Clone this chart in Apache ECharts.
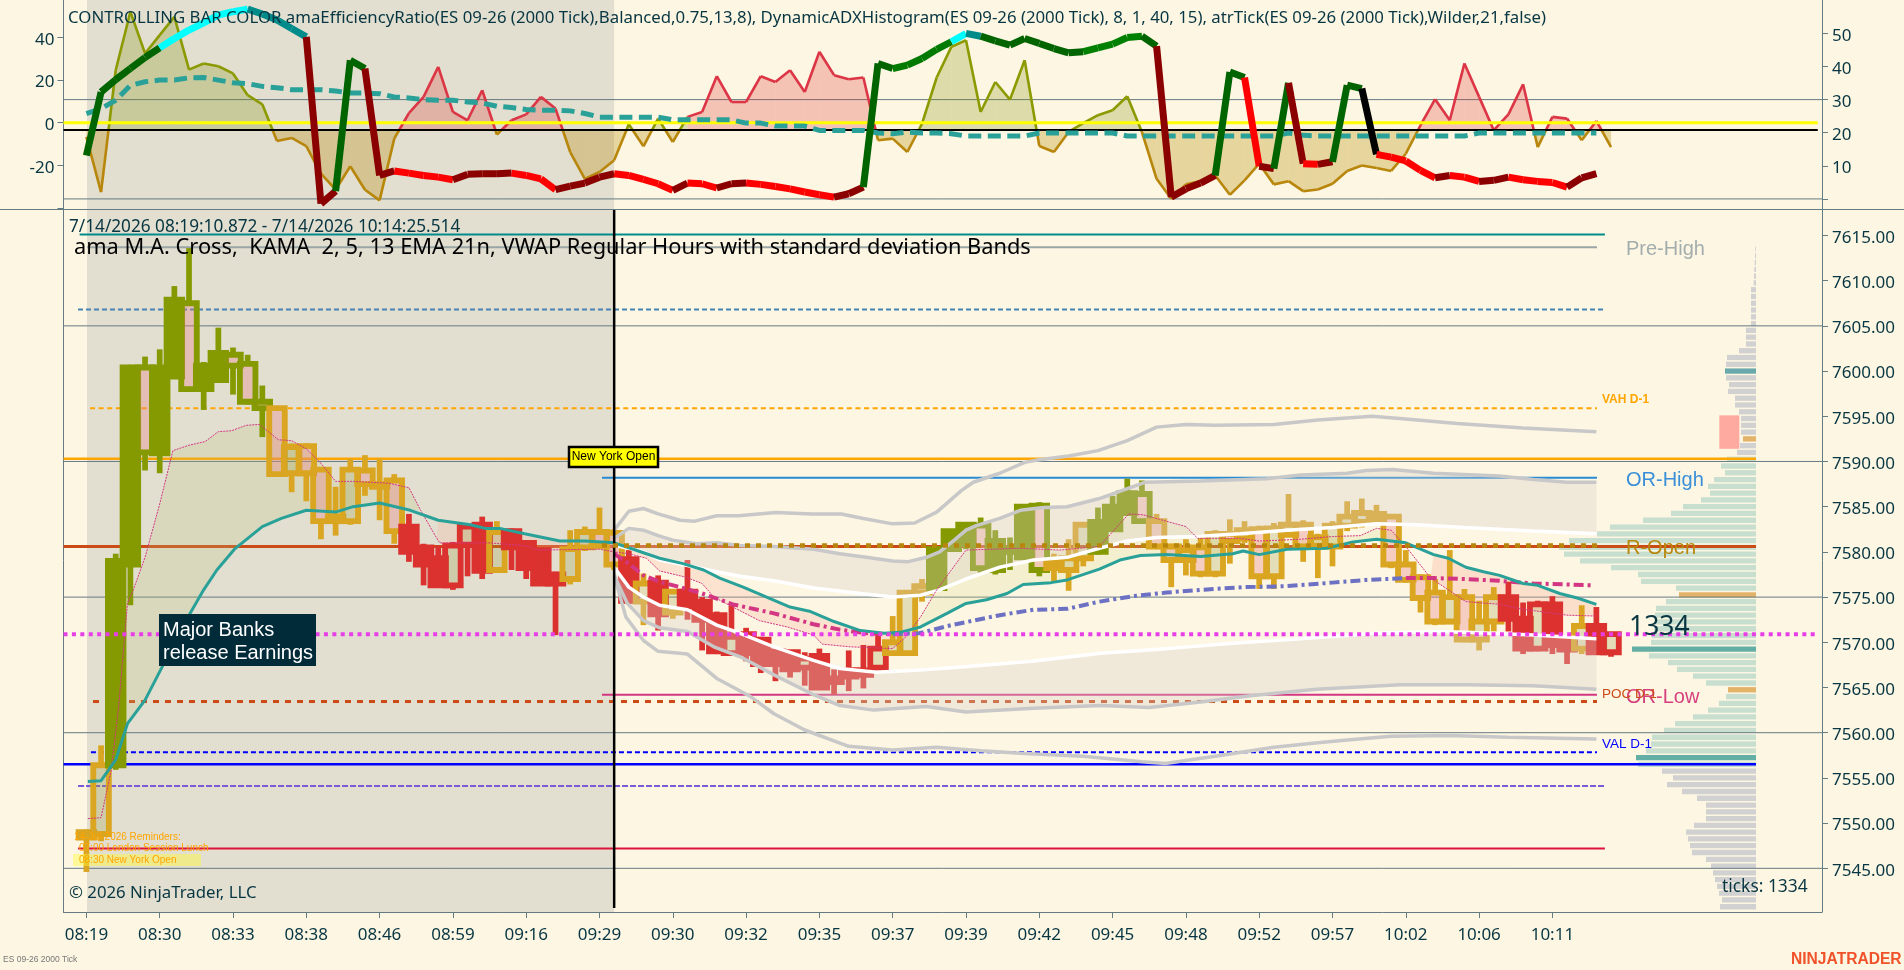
<!DOCTYPE html>
<html><head><meta charset="utf-8">
<style>html,body{margin:0;padding:0;background:#fdf6e3;overflow:hidden}#c{width:1904px;height:970px}</style>
<script src="https://cdn.jsdelivr.net/npm/echarts@6/dist/echarts.min.js"></script>
</head><body><div id="c"></div>
<script>
// ---------- tick labels ----------
const timeLabels = ['08:19','08:30','08:33','08:38','08:46','08:59','09:16','09:29','09:30','09:32','09:35','09:37','09:39','09:42','09:45','09:48','09:52','09:57','10:02','10:06','10:11'];
const priceTicks = [7545,7550,7555,7560,7565,7570,7575,7580,7585,7590,7595,7600,7605,7610,7615];
// ---------- candles ----------
const barOpen  = [7549,7548.8,7556.4,7578.6,7600.4,7590.9,7599.4,7607.5,7598,7599,7601.8,7600.8,7596.6,7595.9,7588.7,7591.7,7589.1,7583.4,7583.4,7589,7587.5,7587.9,7582.8,7580.5,7579.3,7576.3,7580.8,7583,7578,7582.3,7581,7580.2,7577.5,7577,7580.5,7582.2,7582.1,7579.2,7574.5,7576.6,7573.3,7575.6,7574.5,7573,7568.8,7570.9,7570.3,7569,7568.9,7567.2,7568.5,7565.6,7566.9,7566.9,7567.2,7568.8,7568.8,7575.5,7576,7580.3,7580.9,7582.9,7578,7580.3,7579.4,7585.1,7578.2,7578,7579.3,7580,7582.5,7584.3,7586.4,7583.4,7580.6,7579.1,7580.5,7577.6,7582,7581.5,7582.5,7577.3,7581.9,7583,7580.7,7580.6,7582.9,7583.3,7583.6,7583.9,7578.6,7577.2,7575.5,7572.3,7575,7570.3,7572.3,7575,7572.6,7569.3,7574.2,7570.3,7569.3,7571.8,7568.9];
const barHigh  = [7549.3,7558.6,7579.8,7600.7,7601.6,7602.4,7609.4,7613.6,7601,7604.8,7602.6,7601.8,7598.4,7596.1,7592,7592,7589.4,7587.2,7590.3,7590.7,7590.3,7588.6,7584.2,7580.9,7580.7,7581.1,7583,7583.9,7583.4,7582.6,7581.3,7580.4,7577.8,7582.4,7582.8,7584.9,7582.5,7580.2,7577.6,7577.4,7575.9,7579.1,7575,7573.4,7574.1,7571.6,7570.6,7569.2,7569.1,7568.9,7569.3,7567,7569.1,7569.7,7570.9,7572.9,7575.7,7577,7580.6,7582.5,7583.2,7583.8,7582.4,7581.6,7585.3,7585.5,7579.8,7581.4,7583.3,7584.9,7586.2,7588.1,7587.9,7584.2,7580.9,7581.4,7581.9,7582.4,7583.6,7583.4,7582.9,7583.2,7586.4,7583.5,7582,7583.4,7585.6,7585.9,7585.2,7584.1,7580.2,7577.5,7577,7580.2,7575.9,7574.6,7576.1,7576.7,7574.4,7574.6,7575.1,7570.6,7574.1,7573.9,7570.9];
const barLow   = [7544.6,7548,7555.9,7574.1,7589,7588.7,7599.2,7597.8,7595.7,7598.7,7597.4,7596.3,7592.7,7588.4,7586.6,7585.6,7581.4,7581.8,7583,7586.2,7583.5,7580.9,7578.9,7576.3,7576.1,7575.8,7577.3,7577,7577.8,7578,7577,7576.3,7570.8,7576.4,7580.1,7580.3,7578,7574.3,7571.9,7571.3,7572.6,7572.5,7569.1,7568.7,7568.7,7567.9,7566.6,7565.7,7566.1,7565.2,7564.8,7564.2,7564.6,7564.9,7566.9,7568.5,7568.5,7574.5,7575.7,7580,7580.3,7577.6,7577.5,7578,7579.2,7577.3,7576.7,7575.7,7578.4,7579.7,7582.2,7584,7583.1,7580.3,7576.1,7577.4,7577.2,7577.2,7578.7,7581,7575.9,7575.9,7581.7,7578.9,7577.1,7578.4,7582.3,7582.7,7583,7578.2,7576.6,7573.3,7571.9,7572,7570,7569.1,7571.2,7571.2,7568.7,7569,7568.7,7567.6,7568.7,7568.6,7568.4];
const barClose = [7548.4,7556.4,7579,7600.4,7591,7600.4,7607.9,7598,7600.6,7602,7600.6,7596.6,7595.9,7588.6,7591.6,7588.7,7583.4,7583.9,7589.1,7587.5,7587.2,7582.3,7580,7578.6,7576.3,7580.7,7582.8,7577.9,7582.2,7580.5,7578.2,7576.5,7576.5,7580.3,7582.2,7580.7,7578.6,7574.6,7576.5,7573.1,7575.6,7574,7572.5,7569,7570.6,7568.8,7567.6,7567.6,7567,7568.2,7565,7566,7566.2,7566.4,7569.3,7570,7575.5,7576.2,7580.3,7582.3,7583,7578.2,7581.2,7580,7585,7578,7578.8,7579.3,7583,7583.3,7585,7586.5,7583.4,7580.6,7579.1,7580.2,7577.6,7582,7581.2,7582.4,7577.3,7582.6,7583,7580.6,7581.6,7582.9,7583.9,7584.3,7584.2,7578.6,7576.9,7574.9,7572.3,7575,7570.3,7572.3,7575,7572.6,7569.3,7574.2,7569.7,7569.2,7571.8,7568.9,7570.9];
const barTone  = 'ggooooooooooo'.split('').concat('ggggggggg'.split(''),'rrrrrr'.split(''),['g','r','r','r','r','g','g','g','g','r','g','r','g','r','r','r','r','r','r','r','r','r','r','r','r','r','r','g','g','g','o','o','o','o','o','o','o','o','g','g','g','o','o','o','o','g','g','g','g','g','g','g','g','g','g','g','g','g','g','g','g','g','g','g','g','g','g','g','g','r','r','r','r','r','g','r','r','g','r','r','g','r','g']);
// ---------- moving averages and VWAP bands: [bar, price] ----------
const emaLine = [[0.1,7554.6],[1,7554.7],[2,7557],[2.8,7561],[4,7563.6],[5.3,7567.7],[7,7573],[8,7575.8],[8.9,7578],[10.1,7580.3],[12,7582.8],[13.3,7583.7],[15,7584.6],[17,7584.4],[18.2,7585],[20,7585.4],[22.1,7584.6],[24,7583.5],[26.2,7583],[27.2,7582.6],[28.2,7582.6],[29.9,7582],[32.3,7581.2],[34,7581.2],[36,7581],[37.1,7580.4],[39.1,7579.3],[40.7,7578.7],[42.1,7578],[43.2,7577.1],[44.8,7576.1],[46.4,7575],[48,7573.9],[49.4,7573.4],[51,7572.3],[52.8,7571.3],[54.4,7571],[55.5,7571.1],[56.9,7571.7],[58.7,7573.2],[60,7574.3],[61.4,7574.7],[62.8,7575.4],[63.9,7576.4],[65.8,7576.6],[66.9,7576.9],[69.1,7578.1],[70.5,7579.1],[71.9,7579.6],[73.7,7579.7],[76,7579.5],[78.2,7579.8],[78.9,7580.1],[80,7579.7],[81.9,7580.3],[84.6,7580.4],[86.4,7581.1],[88,7581.4],[90,7581],[91.9,7579.7],[92.9,7579.3],[94.1,7578.3],[95.3,7577.8],[96.4,7577.4],[98,7576.5],[99,7576.3],[100.5,7575.4],[101.7,7574.9],[103,7574.2]];
const kamaLine = [[0.1,7550.5],[1,7550.6],[1.7,7555.9],[2.2,7562.9],[2.8,7574.3],[3.2,7575.8],[4,7579.4],[5,7585.3],[5.9,7591.2],[7,7591.8],[8.1,7592.2],[9,7593.3],[9.9,7593.4],[10.9,7594],[11.8,7594.1],[13.1,7592.4],[14,7592.3],[15,7591.4],[16,7589.8],[17,7587.8],[18.2,7587.8],[20.6,7587.6],[22,7587.1],[22.8,7584.6],[23.9,7581.5],[24.1,7581],[27.4,7581],[29.9,7580.7],[30.8,7580.2],[35,7580.3],[36,7580],[37,7579.8],[38.2,7579.3],[39.1,7577.9],[40.9,7577.2],[42,7576.5],[42.8,7575],[44.1,7573.9],[45.9,7572.4],[47.8,7571.7],[49.6,7570.8],[50.2,7569.8],[52.1,7569.5],[55,7569.3],[55.9,7570.6],[56.9,7572.8],[58,7575.8],[60,7580.2],[63.7,7580.4],[66.4,7580.2],[69.1,7580.6],[71.1,7584.2],[72.1,7584.1],[73.2,7583.6],[75,7582.8],[75.8,7581.5],[78.7,7581.5],[80,7581.2],[82.8,7581.4],[85,7581.7],[86.9,7581.8],[88,7582.6],[89,7582.4],[90,7580.6],[91.7,7577.1],[94.1,7574.5],[96.4,7574.2],[97.8,7573.7],[101,7573],[103,7572.9]];
const outerUpper = [[36,7582.4],[37,7584.5],[38,7584.8],[39,7584.2],[40.5,7583.5],[41.5,7583.4],[43,7584],[44.5,7584],[47,7584.35],[49.5,7584.2],[51.5,7584.2],[53,7583.7],[55,7583.1],[56.5,7583.2],[58,7584.4],[59.7,7586.8],[60.5,7587.7],[62.3,7588.7],[64,7589.9],[65,7590.2],[67,7590.6],[69,7591.2],[71,7592.3],[73,7593.8],[75,7594.1],[77,7594],[81,7594.1],[84,7594.6],[87.7,7595],[90,7594.7],[93.5,7594.2],[98,7593.7],[103,7593.3]];
const innerUpper = [[36,7581.5],[37,7582.6],[38,7582.4],[39,7581.8],[40,7581.3],[41.6,7580.9],[43,7581],[44.6,7580.7],[46.9,7580.6],[49.6,7580.3],[51.4,7579.8],[53.2,7579.4],[55,7579],[56,7578.9],[57.3,7579.4],[58.2,7580],[59.2,7581.3],[60,7582.4],[60.7,7582.9],[62.3,7583.7],[63.7,7584.6],[65.3,7584.9],[66.9,7585],[69.1,7585.9],[71,7587],[72.2,7587.7],[76,7587.85],[80.5,7588.1],[82.8,7588.5],[86,7588.7],[87.3,7589],[89.1,7589.1],[91.9,7588.7],[96.4,7588.4],[98.7,7588],[101,7587.7],[103,7587.7]];
const whiteUpper = [[36,7580.7],[37,7580.4],[38,7580],[39.1,7579.1],[41,7578.5],[43,7577.8],[44.6,7577.3],[46.9,7576.8],[49.6,7576],[52.8,7575.4],[55,7575],[56.9,7575.2],[58.2,7575.8],[60,7577],[62.3,7578.3],[64.6,7579.1],[66.9,7579.4],[69.1,7580.4],[71,7581.2],[73,7581.6],[75.7,7581.7],[78.7,7582],[81.9,7582.4],[85,7582.7],[88,7583.1],[90.7,7583],[94,7582.7],[98.7,7582.3],[103,7582]];
const whiteLower = [[36,7578.3],[37,7576.1],[38,7575],[39.1,7574.1],[41,7573.6],[43,7571.9],[44.6,7571],[46.9,7569.5],[49.6,7568],[51.4,7567.1],[53.9,7566.7],[56.6,7566.9],[59.9,7567.3],[64.5,7567.9],[69.2,7568.8],[73.7,7569.3],[78.2,7569.9],[82.8,7570.4],[88,7571],[91.9,7571.2],[94.1,7571.1],[98.7,7570.8],[103,7570.4]];
const innerLower = [[36,7577.4],[36.9,7574.3],[38,7572.4],[39.1,7571.6],[41,7571.2],[42.8,7569.5],[44.6,7568.4],[46.9,7566.4],[49.6,7564.2],[51.4,7563],[53.7,7562.5],[57.3,7562.9],[60,7562.3],[64.6,7562.7],[69.2,7563],[72.5,7562.8],[76,7563.4],[79.4,7564.1],[83.9,7564.8],[89.6,7565.3],[94.1,7565.3],[98.7,7565.2],[103,7564.8]];
const outerLower = [[36,7577.4],[36.8,7572.8],[38,7570.2],[39,7569],[41,7568.7],[43,7566],[45.3,7564],[46.9,7562.1],[49,7560.3],[52,7558.5],[55,7558.1],[58,7558.4],[61,7558],[64,7557.7],[68,7557.4],[72,7556.8],[73.6,7556.6],[77,7557.4],[81,7558.4],[84,7558.9],[86,7559.2],[89,7559.6],[93,7559.7],[97,7559.5],[103,7559.3]];
const vwapFalling = [[36,7579.8],[37,7578.7],[38,7577.4],[39.1,7576.7],[40.5,7576.1],[42,7575.4],[44.1,7574.2],[46.9,7573.2],[49.6,7572],[51.4,7571.4],[53.2,7571],[55,7570.9]];
const vwapRising = [[55,7570.9],[56.8,7571],[59,7571.9],[62.3,7573],[64.6,7573.6],[66.9,7573.7],[69.1,7574.5],[71.4,7575.1],[73.7,7575.5],[76,7575.8],[78.9,7576.1],[81.7,7576.2],[85,7576.6],[87.3,7576.9],[90,7577.1]];
const vwapFallingLate = [[90,7577.1],[92,7577.1],[94,7577],[96.4,7576.8],[98.7,7576.5],[101,7576.4],[102.8,7576.3]];
// ---------- horizontal levels ----------
const levelNames  = ['g7605','g7590','g7575','g7560','g7545','PriorClose','PreHigh','Pivot','VAH','DayHigh','ORHigh','Open','ROpen','Last','ORLow','POC','VAL','DayLow','MidLo','Low'];
const levelPrices = [7605,7590,7575,7560,7545,7615.1,7613.7,7606.8,7595.9,7590.3,7588.2,7580.6,7580.7,7570.9,7564.2,7563.45,7557.85,7556.5,7554.1,7547.2];
const levelFrom   = [-1.56,-1.56,-1.56,-1.56,-1.56,-0.46,0.04,-0.57,0.25,-1.56,35.17,-1.56,35.17,-1.56,35.17,0.45,0.31,-1.56,-0.57,-0.57];
const levelTo     = [118.39,118.39,118.39,118.39,118.39,103.58,103.04,103.58,103.04,113.89,103.04,113.89,103.04,118.1,103.04,103.04,103.04,113.89,103.58,103.58];
// ---------- volume profile ----------
const profileTop = 7613.5, profileTick = 0.75;
const profileVolume = [0.7,1,1.3,1.7,2,2.3,5,5,5,5,5,5,10,10,10,17,29,30,31,30,27,28,21,21,17,15,15,15,13,16,19,29,35,31,42,48,46,55,73,85,113,146,159,187,197,192,176,145,118,115,80,77,90,100,101,101,102,104,105,124,107,88,79,63,50,28,30,37,48,63,81,92,104,105,110,120,118,94,83,89,74,59,50,50,50,62,70,68,66,64,50,45,43,41,39,37,34,36];
const profileTeal = [18,59,75], profileOrange = [28,51,65];
const profileValueFrom = 31, profileValueTo = 76;
const imbalanceBox=[[112.75,7595.1],[112.75,7591.4]];
// ---------- top pane ----------
const effValues = [-15.4,14.4,20.2,25.4,30.6,35.1,39.5,43.5,46.9,50.5,52.1,53.3,51,48.2,44.2,40.3,-38.1,-32.2,29.3,25.4,-24.8,-22.7,-23.7,-24.8,-25.6,-26.8,-24.3,-24,-24,-23.7,-24.8,-26.4,-31.5,-29.8,-28.4,-25.6,-24,-24.8,-26.7,-28.7,-31.8,-28.4,-28.7,-30.7,-28.7,-28.4,-29,-30,-31.1,-32.6,-33.9,-35,-33.4,-30.3,27.8,25.4,27,30.1,34.4,38,41.9,40.6,38.4,36.4,39.5,37.2,34.8,32.8,33.3,35.1,36.9,40,40.6,35.9,-35,-31.1,-28.4,-24.8,23.8,21.2,-20.5,-21.6,18.7,-19.3,-19.6,-18.4,17.6,16,-14.9,-16.2,-18,-22.4,-25.9,-24.8,-25.6,-27.6,-27.1,-25.6,-26.8,-27.6,-28.1,-30.3,-25.9,-24];
const effRuns = [[5,'#006400'],[11,'#00ffff'],[15,'#008b8b'],[17,'#8b0000'],[19,'#006400'],[21,'#8b0000'],[25,'#ff0000'],[29,'#8b0000'],[32,'#ff0000'],[36,'#8b0000'],[40,'#ff0000'],[41,'#8b0000'],[43,'#ff0000'],[45,'#8b0000'],[51,'#ff0000'],[53,'#8b0000'],[55,'#006400'],[59,'#007a00'],[60,'#00ffff'],[61,'#008b8b'],[68,'#006400'],[72,'#008000'],[73,'#006400'],[77,'#8b0000'],[79,'#006400'],[80,'#ff0000'],[81,'#8b0000'],[82,'#006400'],[83,'#8b0000'],[84,'#ff0000'],[85,'#8b0000'],[87,'#006400'],[88,'#000000'],[92,'#ff0000'],[93,'#8b0000'],[95,'#ff0000'],[97,'#8b0000'],[101,'#ff0000'],[103,'#8b0000']];
const adxValues = [-6.7,-32.6,24.6,52.1,32.5,41.1,49.7,24.9,27.8,26.5,23.1,12.9,8.6,-8.6,-7.2,-11,-24,-31.5,-20.5,-31.5,-36.5,-7.5,4.5,12.1,26.2,5,1.1,15.2,-5.6,1.1,3.9,12.1,6.6,-13.8,-26.4,-23.2,-17.7,-0.8,-11.1,1.9,-9.1,2.7,5,21.8,9.7,9.7,21.8,19.1,24.6,14.4,33.3,22.3,20.4,21.2,-8.3,-7.5,-13.8,-0.5,21.2,35.6,38.7,5,19.1,10.8,29.3,-11,-13.8,-4.4,-0.2,3.5,5.8,12.4,-4.4,-26.4,-35.8,-29,-27.5,-24.8,-33.9,-27.1,-19.3,-29,-27.5,-32.2,-31.4,-28.7,-22.7,-20.1,-21.3,-22.7,-14.6,-1.3,11,1.1,27.8,12.1,-3.6,3.9,18,-11.5,2.7,1.9,-8.3,0.8,-11.5];
const adxBaseline = -3.45;
const adxRedRanges = [[21,33],[41,54],[90,104]];
const atrValues = [25.8,27.3,29.8,34.3,35.4,35.9,35.9,36.6,36.7,35.9,35.1,34.8,34,33.6,33,33,33,32.6,32,32,31.8,30.8,30.5,30,29.8,29.8,29.3,29,28,27.6,27,26.8,26.8,26.6,25.8,24.7,24.7,24.7,24.7,24.7,23.9,23.9,23.9,23.9,23.9,22.9,22.9,22,22,22,20.7,20.7,20.7,20.7,19.9,19.7,20.2,19.9,19.9,19.7,19,19,19,19,19,19.9,19.9,19.9,19.9,19.9,19.9,19,19,19,19,19,19,19,19,19,19,19,19.9,19.2,19,19,19,19,19,19,19,19,19,19,19,19.9,19.9,19.9,19.9,19.9,19.9,19.9,19.9,19.9];

// ---------- styling ----------
const BG='#fdf6e3', AXIS='#657b83', INK='#073642', FONT='"Noto Sans"', ARIAL='"Liberation Sans"';
const X_MIN=-1.562, X_MAX=118.39, P_MIN=7540.17, P_MAX=7617.87;
const TONE={g:'#daa520',o:'#859900',r:'#dc322f'};
const levelStyle={
 g7605:[AXIS,1,'solid',2],g7590:[AXIS,1,'solid',2],g7575:[AXIS,1,'solid',2],g7560:[AXIS,1,'solid',2],g7545:[AXIS,1,'solid',2],
 PriorClose:['#008b8b',2,'solid',2],PreHigh:['#9aa5a5',2,'solid',2],Pivot:['#4682b4',2,[5,3],2],VAH:['#ffa500',2,[5,3.6],2],
 DayHigh:['#ffa500',2.5,'solid',2],ORHigh:['#268bd2',2,'solid',2],Open:['#cb4b16',3,'solid',2],ROpen:['#b8860b',4.5,[5,6],40],
 Last:['#e83ee8',4,[4,4.4],40],ORLow:['#d33682',2,'solid',2],POC:['#cb4b16',3,[6,6],2],VAL:['#0000ff',2,[5,3],2],
 DayLow:['#0000ff',2.5,'solid',2],MidLo:['#7b5ad6',2,[6,2],2],Low:['#dc143c',2,'solid',2]};

function polySeries(name,pts,fill,z,xi,yi){
  return {type:'custom',name,coordinateSystem:'cartesian2d',xAxisIndex:xi,yAxisIndex:yi,z,silent:true,clip:false,
    data:[[pts[0][0],pts[0][1]]],
    renderItem:(p,api)=>({type:'polygon',shape:{points:pts.map(q=>api.coord(q))},style:{fill}})};
}
function lineSeries(name,data,color,width,type,z,xi=1,yi=3){
  return {type:'line',name,data,xAxisIndex:xi,yAxisIndex:yi,z,symbol:'none',silent:true,animation:false,clip:false,
    lineStyle:{color,width,type,cap:'butt'}};
}
const between=(pts,a,b)=>pts.filter(p=>p[0]>=a&&p[0]<=b);
function fillBetween(name,top,bot,a,b,fill,z){
  const u=between(top,a,b), l=between(bot,a,b).reverse();
  return polySeries(name,u.concat(l),fill,z,1,3);
}
const candleData=barOpen.map((o,i)=>[i,o,barHigh[i],barLow[i],barClose[i],i]);
const candleSeries={type:'custom',name:'candles',coordinateSystem:'cartesian2d',xAxisIndex:1,yAxisIndex:3,z:3,silent:true,
  encode:{x:0,y:[1,2,3,4]},data:candleData,
  renderItem(p,api){
    const i=api.value(0),o=api.value(1),h=api.value(2),l=api.value(3),c=api.value(4);
    const tone=barTone[api.value(5)],col=TONE[tone],band=api.size([1,0])[0];
    const cx=api.coord([i,o])[0], yo=api.coord([i,o])[1], yc=api.coord([i,c])[1], yh=api.coord([i,h])[1], yl=api.coord([i,l])[1];
    const top=Math.min(yo,yc),bot=Math.max(yo,yc),hw=band*0.53,sw=band*0.4,ww=band*0.39;
    const up=c>=o; let fill;
    if(up) fill=tone==='o'?col:'rgba(150,150,50,.25)'; else fill=tone==='r'?col:'rgba(232,120,120,.32)';
    return {type:'group',children:[
      {type:'rect',shape:{x:cx-ww/2,y:yh,width:ww,height:Math.max(0,top-yh)},style:{fill:col}},
      {type:'rect',shape:{x:cx-ww/2,y:bot,width:ww,height:Math.max(0,yl-bot)},style:{fill:col}},
      {type:'rect',shape:{x:cx-hw,y:top,width:hw*2,height:bot-top},style:{fill,stroke:col,lineWidth:sw}}
    ]};
  }};
const profileData=profileVolume.map((v,k)=>[v,profileTop-profileTick*k,k]);
const profileSeries={type:'custom',name:'profile',coordinateSystem:'cartesian2d',xAxisIndex:2,yAxisIndex:3,z:1,silent:true,
  encode:{x:0,y:1},data:profileData,
  renderItem(p,api){
    const k=api.value(2),a=api.coord([0,api.value(1)]),b=api.coord([api.value(0),api.value(1)]),h=api.size([0,profileTick])[1]*0.78;
    const inside=k>=profileValueFrom&&k<=profileValueTo;
    let fill=inside?'#c8dfd0':'#d2d1d1';
    if(profileTeal.includes(k)) fill=inside?'#64afa5':'#6aa9ab';
    if(profileOrange.includes(k)) fill='#e3b36a';
    return {type:'rect',shape:{x:b[0],y:a[1]-h/2,width:a[0]-b[0],height:h},style:{fill}};
  }};
function effColor(i){for(const r of effRuns) if(i<r[0]) return r[1]; return '#8b0000';}
const effSeries={type:'custom',name:'efficiency',coordinateSystem:'cartesian2d',xAxisIndex:0,yAxisIndex:0,z:8,silent:true,clip:false,
  encode:{x:0,y:1},data:effValues.slice(0,-1).map((v,i)=>[i,v,effValues[i+1]]),
  renderItem(p,api){
    const i=api.value(0);
    return {type:'polyline',shape:{points:[api.coord([i,api.value(1)]),api.coord([i+1,api.value(2)])]},
      style:{fill:null,stroke:effColor(i),lineWidth:7,lineCap:'butt'}};
  }};
const isRed=i=>adxRedRanges.some(r=>i>=r[0]&&i<r[1]);
const adxSeries={type:'custom',name:'adx',coordinateSystem:'cartesian2d',xAxisIndex:0,yAxisIndex:0,z:4,silent:true,clip:false,
  encode:{x:0,y:1},data:adxValues.slice(0,-1).map((v,i)=>[i,v,adxValues[i+1]]),
  renderItem(p,api){
    const i=api.value(0),a=api.value(1),b=api.value(2),B=adxBaseline,parts=[];
    if((a-B)*(b-B)<0){const t=(B-a)/(b-a);parts.push([[i,a],[i+t,B]],[[i+t,B],[i+1,b]]);}
    else parts.push([[i,a],[i+1,b]]);
    const kids=[];
    parts.forEach(s=>{
      const up=(s[0][1]+s[1][1])/2>B;
      const stroke=up?(isRed(i)?'#dc3545':'#8b9a00'):'#b8860b';
      const fill=up?(isRed(i)?'rgba(220,50,47,.26)':'rgba(128,138,0,.25)'):'rgba(181,137,0,.3)';
      kids.push({type:'polygon',shape:{points:[api.coord(s[0]),api.coord(s[1]),api.coord([s[1][0],B]),api.coord([s[0][0],B])]},style:{fill}});
      kids.push({type:'polyline',shape:{points:[api.coord(s[0]),api.coord(s[1])]},style:{fill:null,stroke,lineWidth:2.6}});
    });
    return {type:'group',children:kids};
  }};

const series=[
  polySeries('sessionTop',[[0.04,-40.8],[36,-40.8],[36,57.6],[0.04,57.6]],'#e2dfd0',0,0,0),
  polySeries('sessionMain',[[0.04,P_MIN],[36,P_MIN],[36,P_MAX],[0.04,P_MAX]],'#e2dfd0',0,1,3),
  profileSeries,
  fillBetween('kamaFillA',kamaLine,emaLine,1.6,23.2,'rgba(190,190,120,.22)',2.5),
  fillBetween('kamaFillB',emaLine,kamaLine,23.2,56.2,'rgba(250,170,150,.25)',2.5),
  fillBetween('kamaFillC',kamaLine,emaLine,56.2,90.2,'rgba(215,215,130,.22)',2.5),
  fillBetween('kamaFillD',emaLine,kamaLine,90.2,103,'rgba(250,170,150,.3)',2.5),
  candleSeries,
  fillBetween('bandUp',innerUpper,whiteUpper,36,103,'rgba(215,205,200,.33)',4),
  fillBetween('bandDown',whiteLower,innerLower,36,103,'rgba(215,205,200,.33)',4),
  lineSeries('outerUpper',outerUpper,'#c8c8c8',3.5,'solid',5),
  lineSeries('innerUpper',innerUpper,'#c8c8c8',3.5,'solid',5),
  lineSeries('innerLower',innerLower,'#c8c8c8',3.5,'solid',5),
  lineSeries('outerLower',outerLower,'#c8c8c8',3.5,'solid',5),
  lineSeries('whiteUpper',whiteUpper,'#ffffff',3.5,'solid',6),
  lineSeries('whiteLower',whiteLower,'#ffffff',3.5,'solid',6),
  lineSeries('kama',kamaLine,'#d33682',1,[2,1],6),
  lineSeries('vwapA',vwapFalling,'#d33682',4,[10,4,3,4],6),
  lineSeries('vwapB',vwapRising,'#6c71c4',4,[10,4,3,4],6),
  lineSeries('vwapC',vwapFallingLate,'#d33682',4,[10,4,3,4],6),
  lineSeries('ema',emaLine,'#2aa198',3,'solid',7),
  lineSeries('cursor',[[36,P_MAX],[36,7540.6]],'#000000',2.5,'solid',9),
  lineSeries('atrLevel30',[[X_MIN,30],[X_MAX,30]],AXIS,1,'solid',2,0,1),
  lineSeries('atrLevel0',[[X_MIN,0],[X_MAX,0]],AXIS,1,'solid',2,0,1),
  lineSeries('zero',[[X_MIN,0],[118.1,0]],'#ffff00',3,'solid',6,0,0),
  lineSeries('adxBase',[[X_MIN,adxBaseline],[118.1,adxBaseline]],'#000000',2,'solid',5,0,0),
  adxSeries,
  lineSeries('atr',atrValues.map((v,i)=>[i,v]),'#2aa198',5,[13,6.5],7,0,1),
  effSeries,
  {type:'custom',name:'imbalance',coordinateSystem:'cartesian2d',xAxisIndex:1,yAxisIndex:3,z:2,silent:true,clip:false,
   data:[[imbalanceBox[0][0],imbalanceBox[0][1]]],
   renderItem:(p,api)=>{const a=api.coord(imbalanceBox[0]),b=api.coord(imbalanceBox[1]);
     return {type:'rect',shape:{x:a[0]-20,y:a[1],width:20,height:b[1]-a[1]},style:{fill:'#ffaaa0'}};}}
];
levelNames.forEach((n,i)=>{
  const s=levelStyle[n];
  series.push(lineSeries(n,[[levelFrom[i],levelPrices[i]],[levelTo[i],levelPrices[i]]],s[0],s[1],s[2],s[3]));
});

const txt=(text,x,y,font,fill,extra)=>({type:'text',z:100,silent:true,style:Object.assign({text,x,y,font,fill,verticalAlign:'middle',align:'left'},extra||{})});
const rect=(x,y,w,h,fill,extra)=>({type:'rect',z:99,silent:true,shape:{x,y,width:w,height:h},style:Object.assign({fill},extra||{})});
const graphic=[
  {type:'line',z:50,silent:true,shape:{x1:0,y1:209.5,x2:1904,y2:209.5},style:{stroke:AXIS,lineWidth:1}},
  txt('CONTROLLING BAR COLOR amaEfficiencyRatio(ES 09-26 (2000 Tick),Balanced,0.75,13,8), DynamicADXHistogram(ES 09-26 (2000 Tick), 8, 1, 40, 15), atrTick(ES 09-26 (2000 Tick),Wilder,21,false)',68,18,`16.8px ${FONT}`,INK),
  txt('7/14/2026 08:19:10.872 - 7/14/2026 10:14:25.514',69,227,`17.2px ${FONT}`,INK),
  txt('ama M.A. Cross,  KAMA  2, 5, 13 EMA 21n, VWAP Regular Hours with standard deviation Bands',74,248,`21.8px ${FONT}`,'#000000'),
  txt('© 2026 NinjaTrader, LLC',69,893,`16.8px ${FONT}`,INK),
  rect(159,614,157,52,'#022b3a'),
  txt('Major Banks',163,630,`20px ${ARIAL}`,'#ffffff'),
  txt('release Earnings',163,653,`20px ${ARIAL}`,'#ffffff'),
  rect(569,447,89,20,'#ffff00',{stroke:'#000000',lineWidth:2.5}),
  txt('New York Open',613.5,457,`12px ${ARIAL}`,'#000000',{align:'center'}),
  txt('Pre-High',1626,249,`20px ${ARIAL}`,'#a3adad'),
  txt('OR-High',1626,480,`20px ${ARIAL}`,'#3a8fd8'),
  txt('R-Open',1626,548,`20px ${ARIAL}`,'#b8860b'),
  txt('OR-Low',1626,697,`20px ${ARIAL}`,'#d6407e'),
  txt('VAH D-1',1602,400,`bold 12px ${ARIAL}`,'#ffa500'),
  txt('POC D-1',1602,694,`13.5px ${ARIAL}`,'#cb4b16'),
  txt('VAL D-1',1602,744,`13.5px ${ARIAL}`,'#0000ff'),
  txt('1334',1629,627,`26.5px ${FONT}`,INK),
  txt('ticks: 1334',1722,887,`17.4px ${FONT}`,INK),
  txt('NINJATRADER',1791,960,`bold 15.6px ${ARIAL}`,'#f0522a'),
  txt('ES 09-26 2000 Tick',3,960,`8.5px ${ARIAL}`,'#777777'),
  rect(73,854,128,12,'rgba(255,250,60,.45)'),
  txt('14-Jul-2026 Reminders:',74,837,`10px ${ARIAL}`,'#ffa500'),
  txt('07:00 London Session Lunch',79,848,`10px ${ARIAL}`,'#ffa500'),
  txt('08:30 New York Open',79,860,`10px ${ARIAL}`,'#ffa500')
];

const axisFont={color:INK,fontFamily:FONT,fontSize:17};
const shifted=Object.assign({},axisFont,{rich:{p:Object.assign({},axisFont,{padding:[5,0,0,0]})}});
const lineAxis={show:true,lineStyle:{color:AXIS,width:1}};
const tick6={show:true,length:6,lineStyle:{color:AXIS}};
const option={
  backgroundColor:BG,animation:false,
  grid:[{left:63.5,right:82,top:0,height:209.5,containLabel:false},{left:63.5,right:82,top:209.5,height:702.5,containLabel:false}],
  xAxis:[
    {type:'value',gridIndex:0,min:X_MIN,max:X_MAX,show:false},
    {type:'value',gridIndex:1,min:X_MIN,max:X_MAX,splitLine:{show:false},axisLine:Object.assign({onZero:false},lineAxis),
      axisTick:Object.assign({customValues:timeLabels.map((t,i)=>i*5)},tick6),
      axisLabel:Object.assign({},axisFont,{customValues:timeLabels.map((t,i)=>i*5),formatter:v=>timeLabels[Math.round(v/5)]||'',margin:15})},
    {type:'value',gridIndex:1,inverse:true,min:-66,max:1692.5,show:false}
  ],
  yAxis:[
    {type:'value',gridIndex:0,position:'left',min:-40.8,max:57.6,splitLine:{show:false},axisLine:Object.assign({onZero:false},lineAxis),
      axisTick:Object.assign({customValues:[-40,-20,0,20,40]},tick6),
      axisLabel:Object.assign({customValues:[-20,0,20,40],margin:9,formatter:v=>`{p|${v}}`},shifted)},
    {type:'value',gridIndex:0,position:'right',min:-3.2,max:60.1,splitLine:{show:false},axisLine:Object.assign({onZero:false},lineAxis),
      axisTick:Object.assign({customValues:[0,10,20,30,40,50]},tick6),
      axisLabel:Object.assign({customValues:[10,20,30,40,50],margin:10,formatter:v=>`{p|${v}}`},shifted)},
    {type:'value',gridIndex:1,position:'left',min:P_MIN,max:P_MAX,splitLine:{show:false},axisLine:Object.assign({onZero:false},lineAxis),axisTick:{show:false},axisLabel:{show:false}},
    {type:'value',gridIndex:1,position:'right',min:P_MIN,max:P_MAX,splitLine:{show:false},axisLine:Object.assign({onZero:false},lineAxis),
      axisTick:Object.assign({customValues:priceTicks},tick6),
      axisLabel:Object.assign({customValues:priceTicks,formatter:v=>`{p|${v.toFixed(2)}}`,margin:10},shifted)}
  ],
  graphic,series
};
echarts.init(document.getElementById('c'),null,{renderer:'canvas'}).setOption(option);
</script></body></html>
